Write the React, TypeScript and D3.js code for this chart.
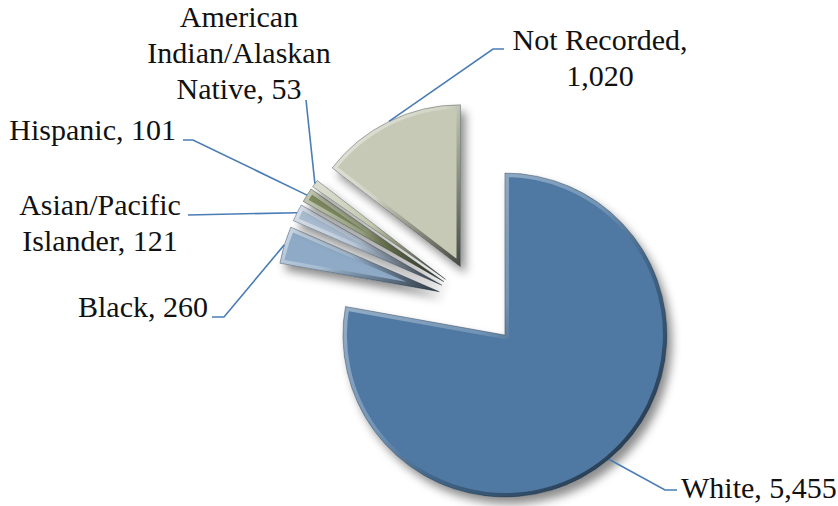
import * as d3 from "d3";
import { useEffect, useRef } from "react";

// slice order as drawn, clockwise from 12 o'clock
const categories = ["White", "Black", "Asian/Pacific Islander", "Hispanic", "American Indian/Alaskan Native", "Not Recorded"];
const counts = [5455, 260, 121, 101, 53, 1020];
const colors = ["#4f79a3", "#8eaac6", "#a9bbcf", "#7d895e", "#b4ba9c", "#c6c9b6"];

// label text lines per slice
const labelLines = [
    ["White, 5,455"],
    ["Black, 260"],
    ["Asian/Pacific", "Islander, 121"],
    ["Hispanic, 101"],
    ["American", "Indian/Alaskan", "Native, 53"],
    ["Not Recorded,", "1,020"],
];

const W = 838, H = 506;

const App = () => {
    const ref = useRef<SVGSVGElement | null>(null);

    useEffect(() => {
        if (!ref.current) return;
        const svg = d3.select(ref.current);
        svg.selectAll("*").remove();

        const cx = 478.6, cy = 303.6, r = 162, explode = 41;

        const data = categories.map((c, i) => ({ name: c, value: counts[i], color: colors[i] }));
        const pie = d3.pie<any>().sort(null).value(d => d.value).startAngle(0).endAngle(2 * Math.PI);
        const arcs = pie(data);
        const arc = d3.arc<any>().innerRadius(0).outerRadius(r);

        const dir = (a: number) => [Math.sin(a), -Math.cos(a)];

        const defs = svg.append("defs");
        const shadow = defs.append("filter").attr("id", "shadow")
            .attr("x", "-20%").attr("y", "-20%").attr("width", "150%").attr("height", "150%");
        shadow.append("feDropShadow")
            .attr("dx", 5).attr("dy", 7).attr("stdDeviation", 5)
            .attr("flood-color", "#000").attr("flood-opacity", 0.45);

        const bevel = defs.append("linearGradient").attr("id", "bevel")
            .attr("x1", 0).attr("y1", 0).attr("x2", 1).attr("y2", 1);
        bevel.append("stop").attr("offset", "0%").attr("stop-color", "#fff").attr("stop-opacity", 0.55);
        bevel.append("stop").attr("offset", "45%").attr("stop-color", "#fff").attr("stop-opacity", 0.2);
        bevel.append("stop").attr("offset", "60%").attr("stop-color", "#000").attr("stop-opacity", 0.15);
        bevel.append("stop").attr("offset", "100%").attr("stop-color", "#000").attr("stop-opacity", 0.65);

        const slices = svg.append("g");

        arcs.forEach((a, i) => {
            const mid = (a.startAngle + a.endAngle) / 2;
            const [dx, dy] = dir(mid);
            const ox = cx + dx * explode, oy = cy + dy * explode;
            const d = arc(a)!;

            defs.append("clipPath").attr("id", `clip${i}`)
                .append("path").attr("d", d);

            const g = slices.append("g").attr("transform", `translate(${ox},${oy})`);
            g.append("path").attr("d", d).attr("fill", a.data.color).attr("filter", "url(#shadow)");
            g.append("path").attr("d", d)
                .attr("fill", "none")
                .attr("stroke", "url(#bevel)")
                .attr("stroke-width", 8)
                .attr("stroke-linejoin", "round")
                .attr("clip-path", `url(#clip${i})`);
            g.append("path").attr("d", d)
                .attr("fill", "none")
                .attr("stroke", "#1d2a36")
                .attr("stroke-opacity", 0.35)
                .attr("stroke-width", 1);
        });

        // leader lines: label elbow points -> outer edge on slice bisector
        const elbows: number[][][] = [
            [[677, 490], [665, 490]],
            [[212, 317], [224, 317]],
            [[188, 215]],
            [[183, 140], [193, 140]],
            [[306, 100]],
            [[504, 49], [493, 49]],
        ];

        const line = d3.line();
        arcs.forEach((a, i) => {
            const mid = (a.startAngle + a.endAngle) / 2;
            const [dx, dy] = dir(mid);
            const px = cx + dx * (explode + r), py = cy + dy * (explode + r);
            const pts = [...elbows[i], [px, py]] as [number, number][];
            svg.append("path").attr("d", line(pts)!)
                .attr("fill", "none").attr("stroke", "#4a7db5").attr("stroke-width", 1.6);
        });

        // labels
        const labelPos = [
            { x: 681, y: 498, anchor: "start" },
            { x: 208, y: 317, anchor: "end" },
            { x: 100, y: 215, anchor: "middle" },
            { x: 176, y: 140, anchor: "end" },
            { x: 239, y: 27, anchor: "middle" },
            { x: 600, y: 50, anchor: "middle" },
        ];
        const lh = 36;
        labelLines.forEach((lines, i) => {
            const p = labelPos[i];
            const t = svg.append("text")
                .attr("text-anchor", p.anchor)
                .style("font-family", "\"Liberation Serif\", serif")
                .style("font-size", "30px")
                .attr("fill", "#111");
            lines.forEach((s, j) => {
                t.append("tspan").attr("x", p.x).attr("y", p.y + j * lh).text(s);
            });
        });
    }, []);

    return <svg width={W} height={H} ref={ref} style={{ position: "absolute", left: 0, top: 0, background: "#fff" }} />;
};

export default App;
